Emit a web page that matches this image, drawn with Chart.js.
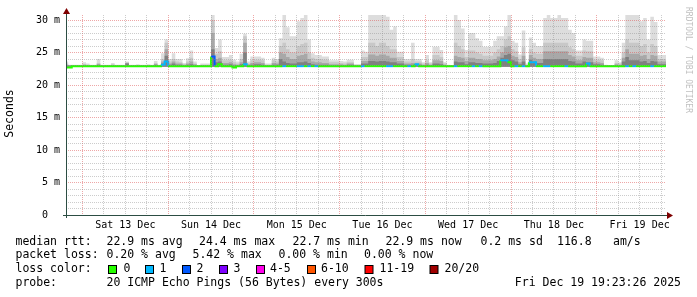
<!DOCTYPE html>
<html>
<head>
<meta charset="utf-8">
<title>SmokePing - last 7 days</title>
<script src="https://cdn.jsdelivr.net/npm/chart.js@4.4.1/dist/chart.umd.min.js"></script>
<style>
    html, body { margin: 0; padding: 0; background: #ffffff; }
    #wrap { position: relative; width: 697px; height: 297px; }
</style>
</head>
<body>
<div id="wrap"><canvas id="smokeChart"></canvas></div>
<script>
// Hours are counted from Sat 13 Dec 00:00, one bin per hour
const firstBin = -5;          // Fri 12 Dec 19:00
const endHour = 163.39;       // Fri 19 Dec 19:23:26
const windowHours = 168;
const smokeFloor = 22.8;      // fastest ping, bottom of the smoke (ms)
const dayLabels = ['Sat 13 Dec', 'Sun 14 Dec', 'Mon 15 Dec', 'Tue 16 Dec', 'Wed 17 Dec', 'Thu 18 Dec', 'Fri 19 Dec'];

// smoke: slowest ping of each hour (ms)
const smokeMax = [
    23.6, 23.1, 23.1, 23.1, 23.1,
    23.5, 23.3, 23.1, 23.1, 24.0, 23.1, 23.1, 23.1, 23.4, 23.1, 23.1, 23.1, 23.6, 23.1, 23.1, 23.2, 23.1, 23.1, 23.2, 23.1, 23.7, 23.1, 24.9, 27.0,
    24.0, 24.9, 24.0, 24.0, 23.4, 24.1, 25.3, 23.6, 23.0, 23.3, 23.3, 23.3, 30.8, 25.7, 27.0, 24.3, 24.3, 24.6, 23.9, 23.6, 24.8, 27.9, 23.6, 24.4,
    24.4, 24.4, 24.2, 23.3, 23.3, 24.2, 24.0, 27.2, 30.8, 28.9, 27.5, 27.5, 29.8, 30.3, 30.8, 27.0, 24.9, 24.6, 24.6, 24.4, 24.4, 23.8, 23.8, 23.8,
    23.7, 23.6, 23.9, 23.9, 23.2, 23.2, 25.3, 25.1, 30.8, 30.8, 30.8, 30.8, 30.8, 30.5, 28.5, 29.0, 25.1, 25.1, 24.0, 24.0, 26.5, 24.0, 24.0, 23.5,
    24.6, 23.5, 25.9, 25.9, 25.4, 23.5, 23.1, 23.0, 30.8, 30.0, 28.7, 25.4, 28.0, 28.0, 27.2, 26.8, 25.9, 25.9, 25.9, 26.8, 27.5, 27.5, 29.0, 30.8,
    26.8, 26.5, 24.7, 28.4, 23.3, 27.3, 26.5, 26.0, 26.0, 30.3, 30.8, 30.3, 30.3, 30.8, 30.3, 30.3, 28.5, 28.0, 25.3, 25.3, 27.0, 26.8, 26.8, 24.4,
    24.4, 24.2, 23.1, 23.0, 23.0, 23.8, 23.5, 26.5, 30.8, 30.8, 30.8, 30.8, 29.8, 30.3, 27.0, 30.5, 29.7, 24.6, 24.6, 24.6
];

// smoke: upper band
const smokeUpper = [
    23.3, 23.0, 23.0, 23.0, 23.0,
    23.2, 23.1, 23.0, 23.0, 23.4, 23.0, 23.0, 23.0, 23.2, 23.0, 23.0, 23.0, 23.5, 23.0, 23.0, 23.0, 23.0, 23.0, 23.0, 23.0, 23.4, 23.0, 24.0, 26.5,
    23.6, 24.0, 23.6, 23.5, 23.2, 23.6, 24.2, 23.3, 23.0, 23.1, 23.1, 23.1, 30.0, 24.8, 25.2, 23.8, 23.8, 23.9, 23.5, 23.3, 24.0, 27.5, 23.3, 23.8,
    23.9, 23.9, 23.8, 23.1, 23.1, 23.8, 23.6, 26.0, 26.5, 25.5, 25.0, 25.0, 26.0, 26.3, 26.5, 25.0, 24.2, 24.0, 24.0, 23.9, 23.9, 23.5, 23.5, 23.5,
    23.4, 23.3, 23.5, 23.5, 23.1, 23.1, 24.3, 24.3, 26.5, 26.5, 26.0, 26.5, 26.5, 26.0, 25.5, 25.5, 24.3, 24.3, 23.6, 23.6, 24.0, 23.6, 23.6, 23.3,
    23.8, 23.3, 24.6, 24.6, 24.3, 23.3, 23.0, 23.0, 26.5, 26.0, 25.5, 24.3, 25.3, 25.3, 25.0, 24.8, 24.5, 24.5, 24.5, 25.0, 25.5, 26.0, 27.0, 27.5,
    25.5, 25.2, 24.0, 25.8, 23.1, 25.5, 25.0, 24.8, 24.8, 26.5, 26.5, 26.5, 26.5, 26.5, 26.5, 26.5, 25.8, 25.5, 24.5, 24.5, 25.3, 25.2, 25.2, 23.9,
    23.9, 23.8, 23.0, 23.0, 23.0, 23.4, 23.3, 25.0, 27.0, 26.5, 26.5, 26.5, 26.0, 26.3, 25.0, 26.3, 26.0, 24.0, 24.0, 24.0
];

// smoke: middle band
const smokeMid = [
    23.1, 23.0, 23.0, 23.0, 23.0,
    23.1, 23.0, 23.0, 23.0, 23.2, 23.0, 23.0, 23.0, 23.0, 23.0, 23.0, 23.0, 23.4, 23.0, 23.0, 23.0, 23.0, 23.0, 23.0, 23.0, 23.2, 23.0, 23.6, 25.5,
    23.3, 23.6, 23.3, 23.3, 23.1, 23.3, 23.6, 23.2, 23.0, 23.0, 23.0, 23.0, 28.0, 24.0, 24.2, 23.4, 23.4, 23.5, 23.2, 23.1, 23.5, 26.5, 23.2, 23.4,
    23.5, 23.5, 23.4, 23.0, 23.0, 23.4, 23.3, 25.0, 24.8, 24.3, 24.0, 24.0, 24.5, 24.6, 24.8, 24.0, 23.6, 23.5, 23.5, 23.4, 23.4, 23.2, 23.2, 23.2,
    23.2, 23.1, 23.3, 23.3, 23.0, 23.0, 23.7, 23.7, 24.7, 24.7, 24.5, 24.7, 24.7, 24.5, 24.2, 24.2, 23.7, 23.7, 23.3, 23.3, 23.4, 23.3, 23.3, 23.1,
    23.4, 23.1, 23.8, 23.8, 23.7, 23.1, 23.0, 23.0, 24.5, 24.3, 24.2, 23.7, 24.2, 24.2, 24.0, 24.0, 23.8, 23.8, 23.8, 24.0, 24.4, 25.0, 25.8, 26.0,
    24.5, 24.3, 23.5, 24.5, 23.0, 24.6, 24.2, 24.0, 24.0, 25.2, 25.2, 25.2, 25.2, 25.2, 25.2, 25.2, 24.6, 24.4, 23.8, 23.8, 24.3, 24.2, 24.2, 23.5,
    23.5, 23.4, 23.0, 23.0, 23.0, 23.2, 23.1, 24.2, 25.5, 24.8, 24.8, 24.8, 24.5, 24.6, 24.0, 24.6, 24.5, 23.6, 23.6, 23.6
];

// smoke: dark core next to the median
const smokeCore = [
    23.0, 23.0, 23.0, 23.0, 23.0,
    23.0, 23.0, 23.0, 23.0, 23.1, 23.0, 23.0, 23.0, 23.0, 23.0, 23.0, 23.0, 23.3, 23.0, 23.0, 23.0, 23.0, 23.0, 23.0, 23.0, 23.1, 23.0, 23.3, 24.5,
    23.1, 23.3, 23.1, 23.1, 23.0, 23.1, 23.2, 23.0, 23.0, 23.0, 23.0, 23.0, 25.5, 23.5, 23.6, 23.1, 23.1, 23.2, 23.0, 23.0, 23.2, 25.0, 23.0, 23.1,
    23.2, 23.2, 23.1, 23.0, 23.0, 23.1, 23.1, 24.0, 23.6, 23.4, 23.3, 23.3, 23.5, 23.5, 23.6, 23.4, 23.2, 23.1, 23.1, 23.1, 23.1, 23.0, 23.0, 23.0,
    23.0, 23.0, 23.1, 23.1, 23.0, 23.0, 23.3, 23.3, 23.7, 23.7, 23.6, 23.7, 23.7, 23.6, 23.5, 23.5, 23.3, 23.3, 23.1, 23.1, 23.1, 23.1, 23.1, 23.0,
    23.1, 23.0, 23.3, 23.3, 23.2, 23.0, 23.0, 23.0, 23.6, 23.5, 23.5, 23.2, 23.5, 23.5, 23.4, 23.4, 23.3, 23.3, 23.3, 23.4, 23.7, 24.2, 24.6, 24.8,
    23.8, 23.6, 23.2, 23.6, 23.0, 23.9, 23.6, 23.4, 23.4, 24.0, 24.0, 24.0, 24.0, 24.0, 24.0, 24.0, 23.7, 23.6, 23.3, 23.3, 23.6, 23.5, 23.5, 23.2,
    23.2, 23.1, 23.0, 23.0, 23.0, 23.0, 23.0, 23.6, 24.3, 23.8, 23.8, 23.8, 23.6, 23.7, 23.4, 23.7, 23.6, 23.2, 23.2, 23.2
];

// median rtt (ms)
const medianRtt = [
    22.7, 22.7, 22.9, 22.9, 22.9,
    22.9, 22.9, 22.9, 22.9, 22.9, 22.9, 22.9, 22.9, 22.9, 22.9, 22.9, 22.9, 22.9, 22.9, 22.9, 22.9, 22.9, 22.9, 22.9, 22.9, 22.9, 22.9, 23.1, 23.6,
    22.9, 22.9, 22.9, 22.9, 22.9, 22.9, 22.9, 22.9, 22.9, 22.9, 22.9, 22.9, 24.4, 22.9, 23.2, 22.9, 22.9, 22.9, 22.7, 22.9, 22.9, 23.2, 22.9, 22.9,
    22.9, 22.9, 22.9, 22.9, 22.9, 22.9, 22.9, 22.9, 22.9, 22.9, 22.9, 22.9, 22.9, 22.9, 22.9, 22.9, 22.9, 22.9, 22.9, 22.9, 22.9, 22.9, 22.9, 22.9,
    22.9, 22.9, 22.9, 22.9, 22.9, 22.9, 22.9, 22.9, 22.9, 22.9, 22.9, 22.9, 22.9, 22.9, 22.9, 22.9, 22.9, 22.9, 22.9, 22.9, 22.9, 23.2, 22.9, 22.9,
    22.9, 22.9, 22.9, 22.9, 22.9, 22.9, 22.9, 22.9, 22.9, 22.9, 22.9, 22.9, 22.9, 22.9, 22.9, 22.9, 22.9, 22.9, 22.9, 22.9, 22.9, 23.8, 23.8, 23.5,
    22.9, 22.9, 22.9, 22.9, 22.9, 23.5, 23.5, 22.9, 22.9, 22.9, 22.9, 22.9, 22.9, 22.9, 22.9, 22.9, 22.9, 22.9, 22.9, 22.9, 22.9, 23.3, 22.9, 22.9,
    22.9, 22.9, 22.9, 22.9, 22.9, 22.9, 22.9, 22.9, 22.9, 22.9, 22.9, 22.9, 22.9, 22.9, 22.9, 22.9, 22.9, 22.9, 22.9, 22.9
];

// lost pings out of 20
const lossCount = [
    0, 0, 0, 0, 0,
    0, 0, 0, 0, 0, 0, 0, 0, 0, 0, 0, 0, 0, 0, 0, 0, 0, 0, 0, 0, 0, 0, 1, 1,
    0, 0, 0, 0, 0, 0, 0, 0, 0, 0, 0, 0, 2, 0, 0, 0, 0, 0, 0, 0, 0, 1, 0, 0,
    0, 0, 0, 0, 0, 0, 0, 0, 1, 0, 0, 0, 1, 1, 0, 1, 0, 1, 0, 0, 0, 0, 0, 0,
    0, 0, 0, 0, 0, 0, 1, 0, 0, 0, 0, 0, 0, 1, 1, 0, 0, 0, 0, 1, 0, 1, 0, 0,
    0, 0, 0, 0, 0, 0, 0, 0, 1, 0, 0, 0, 0, 1, 0, 1, 0, 0, 0, 0, 0, 1, 1, 0,
    0, 1, 0, 1, 0, 1, 1, 0, 0, 1, 1, 0, 0, 0, 0, 1, 0, 0, 0, 0, 0, 1, 0, 0,
    0, 0, 0, 0, 0, 0, 0, 0, 1, 0, 1, 0, 0, 0, 0, 1, 0, 0, 0, 0
];

const lossLegend = [
    { label: '0', color: '#26ff00' },
    { label: '1', color: '#00b8ff' },
    { label: '2', color: '#0059ff' },
    { label: '3', color: '#7e00ff' },
    { label: '4-5', color: '#ff00ea' },
    { label: '6-10', color: '#ff5500' },
    { label: '11-19', color: '#ff0000' },
    { label: '20/20', color: '#a00000' }
];

const MONO = 'DejaVu Sans Mono';

function lossColor(n) {
    if (n <= 0) return lossLegend[0].color;
    if (n === 1) return lossLegend[1].color;
    if (n === 2) return lossLegend[2].color;
    if (n === 3) return lossLegend[3].color;
    if (n <= 5) return lossLegend[4].color;
    if (n <= 10) return lossLegend[5].color;
    if (n <= 19) return lossLegend[6].color;
    return lossLegend[7].color;
}

// hourly steps, plus a closing point at the time the graph was made
function toSteps(values) {
    const pts = values.map((v, i) => ({ x: firstBin + i, y: v }));
    pts.push({ x: endHour, y: values[values.length - 1] });
    return pts;
}

function smokeLayer(values, color, order) {
    return {
        data: toSteps(values),
        stepped: true,
        fill: { value: smokeFloor },
        backgroundColor: color,
        borderColor: 'transparent',
        borderWidth: 0,
        pointRadius: 0,
        order: order
    };
}

const xTicks = [];
for (let h = 0; h <= endHour; h += 6) xTicks.push(h);
const yTicks = [];
for (let v = 0; v <= 30; v++) yTicks.push(v);

const MAJOR = 'rgba(222, 80, 80, 0.5)';
const MINOR = 'rgba(143, 143, 143, 0.45)';

// axes with arrows, unit label, watermark and the legend block
const decorations = {
    id: 'decorations',
    afterDraw(chart) {
        const ctx = chart.ctx;
        const a = chart.chartArea;
        ctx.save();

        ctx.strokeStyle = '#2c4d43';
        ctx.lineWidth = 1;
        ctx.beginPath();
        ctx.moveTo(a.left + 0.5, a.bottom + 3);
        ctx.lineTo(a.left + 0.5, a.top - 2);
        ctx.moveTo(a.left - 3, a.bottom + 0.5);
        ctx.lineTo(a.right + 2, a.bottom + 0.5);
        ctx.stroke();

        ctx.fillStyle = '#7f0000';
        ctx.beginPath();
        ctx.moveTo(a.left + 0.5, a.top - 7);
        ctx.lineTo(a.left - 3, a.top - 1);
        ctx.lineTo(a.left + 4, a.top - 1);
        ctx.closePath();
        ctx.fill();
        ctx.beginPath();
        ctx.moveTo(a.right + 7, a.bottom + 0.5);
        ctx.lineTo(a.right + 1, a.bottom - 3);
        ctx.lineTo(a.right + 1, a.bottom + 4);
        ctx.closePath();
        ctx.fill();

        ctx.fillStyle = '#000000';
        ctx.textBaseline = 'middle';
        ctx.textAlign = 'center';
        ctx.font = '11.5px "' + MONO + '"';
        ctx.save();
        ctx.translate(10.5, 113.5);
        ctx.rotate(-Math.PI / 2);
        ctx.fillText('Seconds', 0, 0);
        ctx.restore();

        ctx.save();
        ctx.fillStyle = '#c0c0c0';
        ctx.font = '8px "' + MONO + '"';
        ctx.translate(688.5, 60);
        ctx.rotate(Math.PI / 2);
        ctx.fillText('RRDTOOL / TOBI OETIKER', 0, 0);
        ctx.restore();

        ctx.textAlign = 'left';
        ctx.font = '11.5px "' + MONO + '"';
        const rows = [
            [241.7, [[16, 'median rtt:'], [107, '22.9 ms avg'], [199.5, '24.4 ms max'], [293, '22.7 ms min'],
                     [386, '22.9 ms now'], [481, '0.2 ms sd'], [557.5, '116.8'], [613.5, 'am/s']]],
            [255, [[16, 'packet loss:'], [107, '0.20 % avg'], [193, '5.42 % max'], [279, '0.00 % min'], [364.5, '0.00 % now']]],
            [269, [[16, 'loss color:']]],
            [282.7, [[16, 'probe:'], [107, '20 ICMP Echo Pings (56 Bytes) every 300s']]]
        ];
        rows.forEach(([y, parts]) => {
            parts.forEach(([x, text]) => ctx.fillText(text, x - 0.5, y));
        });

        const boxX = [108, 145, 182, 219, 256, 307, 364.5, 429.5];
        const textX = [124, 160, 197, 234, 270.5, 321.5, 380, 445];
        lossLegend.forEach((item, i) => {
            ctx.fillStyle = item.color;
            ctx.fillRect(boxX[i] + 0.5, 265.5, 8, 8);
            ctx.strokeStyle = '#000000';
            ctx.strokeRect(boxX[i] + 0.5, 265.5, 8, 8);
            ctx.fillStyle = '#000000';
            ctx.fillText(item.label, textX[i] - 0.5, 269);
        });

        ctx.textAlign = 'right';
        ctx.fillText('Fri Dec 19 19:23:26 2025', 681, 282.7);
        ctx.restore();
    }
};

new Chart(document.getElementById('smokeChart'), {
    type: 'line',
    data: {
        datasets: [
            {
                data: toSteps(medianRtt),
                stepped: true,
                fill: false,
                borderWidth: 2,
                borderColor: lossLegend[0].color,
                pointRadius: 0,
                order: 0,
                segment: {
                    borderColor: c => lossColor(lossCount[c.p0DataIndex])
                }
            },
            smokeLayer(smokeCore, '#808080', 1),
            smokeLayer(smokeMid, '#a8a8a8', 2),
            smokeLayer(smokeUpper, '#c8c8c8', 3),
            smokeLayer(smokeMax, '#dddddd', 4)
        ]
    },
    options: {
        responsive: true,
        maintainAspectRatio: false,
        animation: false,
        events: [],
        layout: { padding: { left: 0, top: 15, right: 31, bottom: 62 } },
        plugins: {
            legend: { display: false },
            tooltip: { enabled: false }
        },
        scales: {
            x: {
                type: 'linear',
                min: endHour - windowHours,
                max: endHour,
                afterBuildTicks: s => { s.ticks = xTicks.map(v => ({ value: v })); },
                afterFit: s => { s.height = 20; },
                ticks: {
                    autoSkip: false,
                    maxRotation: 0,
                    padding: 4,
                    color: '#000000',
                    font: { family: MONO, size: 10 },
                    callback: v => (v % 24 === 12 ? dayLabels[(v - 12) / 24] : '')
                },
                grid: {
                    drawTicks: false,
                    z: 1,
                    color: c => (c.tick && c.tick.value % 24 === 0 ? MAJOR : MINOR)
                },
                border: { display: false, dash: [1, 1] }
            },
            y: {
                type: 'linear',
                min: 0,
                max: 30.77,
                afterBuildTicks: s => { s.ticks = yTicks.map(v => ({ value: v })); },
                afterFit: s => { s.width = 66; },
                ticks: {
                    autoSkip: false,
                    padding: 6,
                    color: '#000000',
                    font: { family: MONO, size: 10 },
                    callback: v => (v % 5 !== 0 ? '' : (v === 0 ? '0  ' : v + ' m'))
                },
                grid: {
                    drawTicks: false,
                    z: 1,
                    color: c => (c.tick && c.tick.value % 5 === 0 ? MAJOR : MINOR)
                },
                border: { display: false, dash: [1, 1] }
            }
        }
    },
    plugins: [decorations]
});
</script>
</body>
</html>
